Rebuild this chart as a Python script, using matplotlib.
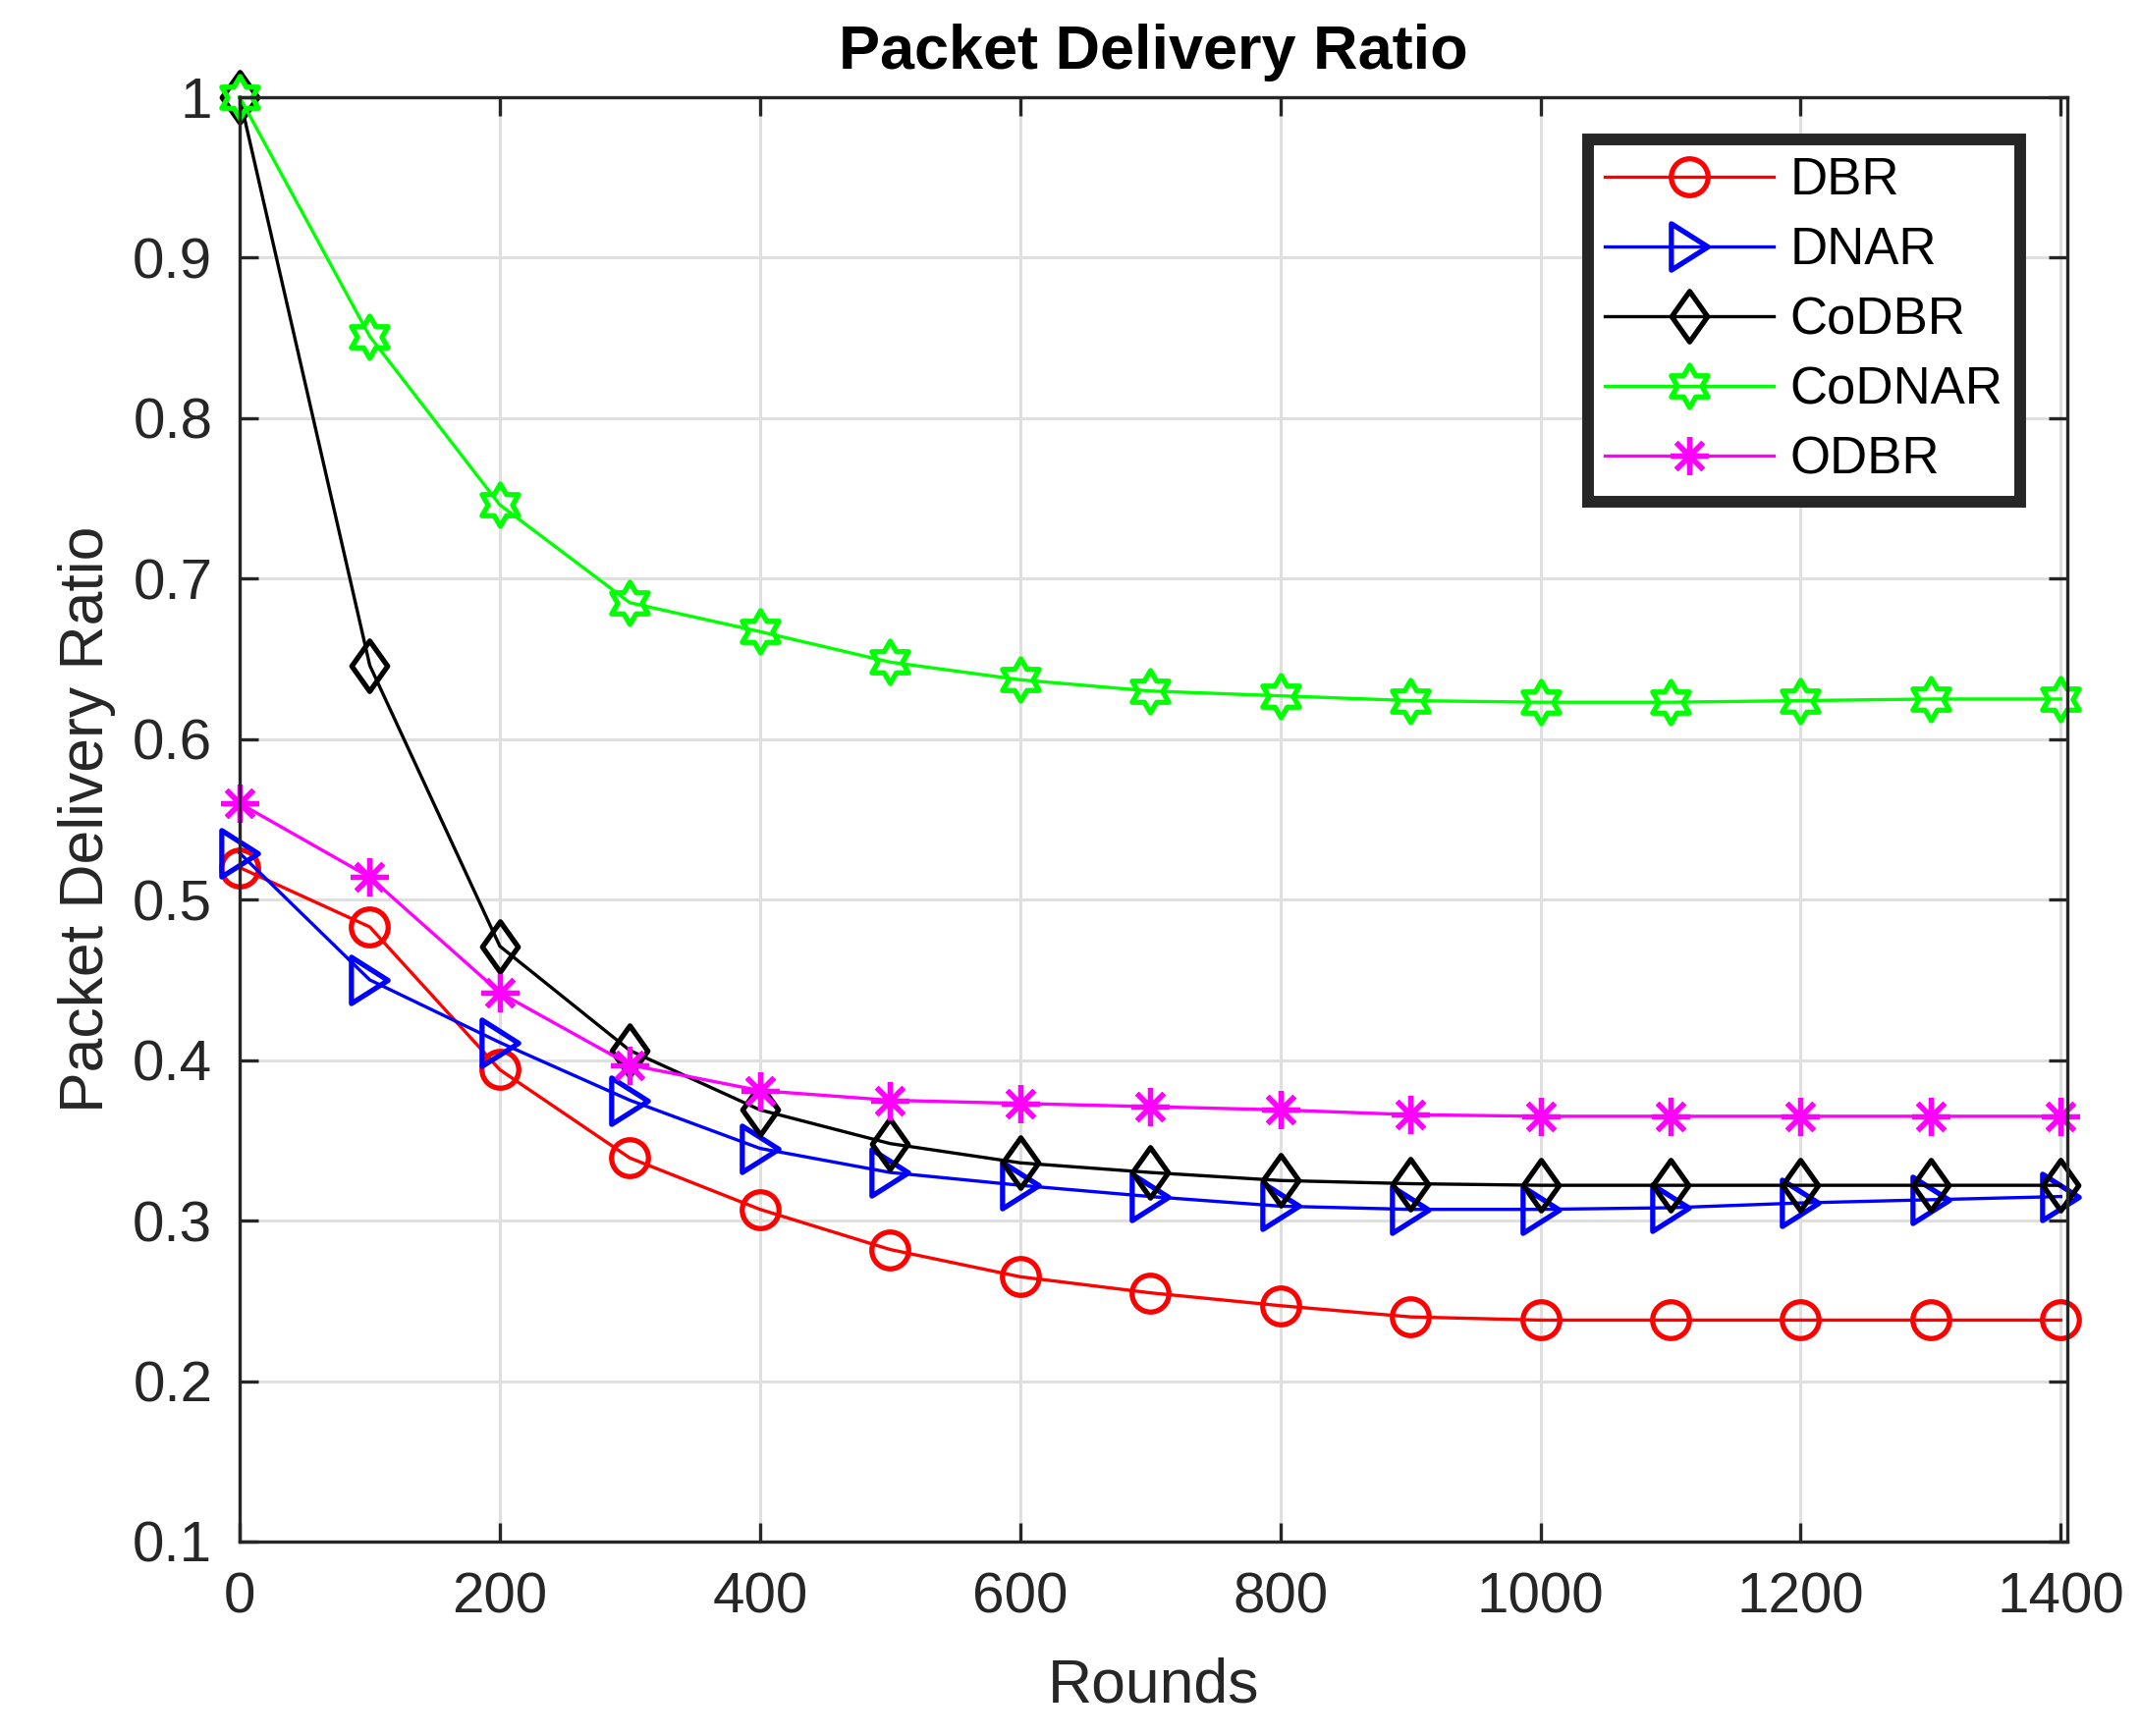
import numpy as np
import matplotlib.pyplot as plt
from matplotlib.path import Path
from matplotlib.ticker import MultipleLocator

plt.rcParams['font.family'] = ['Liberation Sans', 'DejaVu Sans']

rounds = [0, 100, 200, 300, 400, 500, 600, 700, 800, 900, 1000, 1100, 1200, 1300, 1400]

dbr = [0.520, 0.483, 0.394, 0.339, 0.307, 0.282, 0.265, 0.255, 0.247, 0.240,
       0.238, 0.238, 0.238, 0.238, 0.238]
dnar = [0.529, 0.450, 0.411, 0.375, 0.345, 0.330, 0.322, 0.315, 0.309, 0.307,
        0.307, 0.308, 0.311, 0.313, 0.315]
codbr = [1.000, 0.646, 0.471, 0.406, 0.369, 0.348, 0.336, 0.330, 0.325, 0.323,
         0.322, 0.322, 0.322, 0.322, 0.322]
codnar = [1.000, 0.851, 0.746, 0.685, 0.667, 0.648, 0.637, 0.630, 0.627, 0.624,
          0.623, 0.623, 0.624, 0.625, 0.625]
odbr = [0.560, 0.514, 0.442, 0.397, 0.381, 0.375, 0.373, 0.371, 0.369, 0.366,
        0.365, 0.365, 0.365, 0.365, 0.365]


def closed_marker(verts):
    verts = list(verts) + [verts[0]]
    return Path(verts, closed=True)


# matlab style marker shapes
ang = np.pi / 2 + np.arange(12) * np.pi / 6
rad = np.where(np.arange(12) % 2 == 0, 1.0, 0.577)
hexagram = closed_marker(list(zip(rad * np.cos(ang), rad * np.sin(ang))))
diamond = closed_marker([(0, 1), (0.71, 0), (0, -1), (-0.71, 0)])
tri_right = closed_marker([(0.79, 0), (-0.79, 1), (-0.79, -1)])

fig = plt.figure(figsize=(10.895, 8.84), dpi=200)
ax = fig.add_axes([0.112, 0.112, 0.854, 0.832])

dark = '#262626'
mew = 1.9
lw = 1.2
ax.plot(rounds, dbr, color='red', marker='o', ms=13.5, mfc='none', mew=mew, lw=lw,
        clip_on=False, label='DBR')
ax.plot(rounds, dnar, color='blue', marker=tri_right, ms=17, mfc='none', mew=mew, lw=lw,
        clip_on=False, label='DNAR')
ax.plot(rounds, codbr, color='black', marker=diamond, ms=18.5, mfc='none', mew=mew, lw=lw,
        clip_on=False, label='CoDBR')
ax.plot(rounds, codnar, color='#00ff00', marker=hexagram, ms=15.5, mfc='none', mew=mew, lw=lw,
        clip_on=False, label='CoDNAR')
ax.plot(rounds, odbr, color='magenta', marker=(8, 2, 0), ms=14, mew=mew, lw=lw,
        clip_on=False, label='ODBR')

ax.set_xlim(0, 1405)
ax.set_ylim(0.1, 1.0)
ax.xaxis.set_major_locator(MultipleLocator(200))
ax.yaxis.set_major_locator(MultipleLocator(0.1))
ax.yaxis.set_major_formatter(plt.FuncFormatter(lambda v, p: ('%.1f' % v).rstrip('0').rstrip('.')))

ax.grid(True, color='#dfdfdf', lw=1.1)
ax.set_axisbelow(True)
ax.tick_params(direction='in', length=6.8, width=1.2, top=True, right=True,
               labelsize=21, colors=dark)
ax.tick_params(axis='x', pad=11)
ax.tick_params(axis='y', pad=10)
for s in ax.spines.values():
    s.set_color(dark)
    s.set_linewidth(1.2)

ax.set_title('Packet Delivery Ratio', fontsize=22.7, fontweight='bold', pad=10.5)
ax.set_xlabel('Rounds', fontsize=22.5, color=dark, labelpad=12)
ax.set_ylabel('Packet Delivery Ratio', fontsize=22.5, color=dark, labelpad=6)

leg = ax.legend(loc='upper right', bbox_to_anchor=(0.974, 0.971), borderaxespad=0,
                fontsize=19, handlelength=3.26, fancybox=False, framealpha=1,
                labelspacing=0.4, borderpad=0.33, handletextpad=0.3)
leg.get_frame().set_edgecolor(dark)
leg.get_frame().set_linewidth(4.3)

fig.savefig('out.png', dpi=200)
